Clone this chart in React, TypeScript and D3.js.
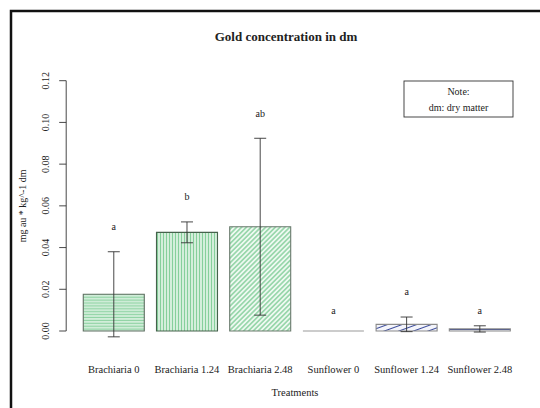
import React from "react";
import * as d3 from "d3";

const treatments = ["Brachiaria 0", "Brachiaria 1.24", "Brachiaria 2.48", "Sunflower 0", "Sunflower 1.24", "Sunflower 2.48"];
const means = [0.0176, 0.0473, 0.05, 0, 0.0032, 0.001];
const sds = [0.0204, 0.005, 0.0424, 0, 0.0035, 0.0015];
const letters = ["a", "b", "ab", "a", "a", "a"];
const letterY = [0.05, 0.0644, 0.104, 0.0097, 0.0188, 0.0097];
const yTicks = [0, 0.02, 0.04, 0.06, 0.08, 0.1, 0.12];
const patterns = ["hz", "vt", "dg", "none", "dgb", "hzb"];

const FONT = "Liberation Serif, Times New Roman, Times, serif";

export default function App() {
  const W = 540, H = 408;
  const x = d3.scaleLinear().domain([-0.08, 7.48]).range([66.2, 527.4]);
  const y = d3.scaleLinear().domain([0, 0.12]).range([331, 80.7]);
  const barL = (i: number) => 0.2 + 1.2 * i;
  const fmt = d3.format(".2f");

  const fills: Record<string, string> = {
    hz: "url(#pHz)", vt: "url(#pVt)", dg: "url(#pDg)", none: "none", dgb: "url(#pDgb)", hzb: "url(#pHzb)",
  };
  const strokes: Record<string, string> = {
    hz: "#5f6f62", vt: "#46624c", dg: "#6a7a6d", none: "#9a9a9a", dgb: "#8a8a8a", hzb: "#8a8a8a",
  };
  const txt = { fontFamily: FONT, fill: "#222" } as React.CSSProperties;

  return (
    <svg width={W} height={H} style={{ position: "absolute", left: 0, top: 0, background: "#fff" }}>
      <defs>
        <pattern id="pHz" width="6" height="2.9" patternUnits="userSpaceOnUse">
          <rect width="6" height="2.9" fill="#e6f6ea" />
          <line x1="0" x2="6" y1="1.4" y2="1.4" stroke="#8ed3a3" strokeWidth="1.5" />
        </pattern>
        <pattern id="pVt" width="3" height="6" patternUnits="userSpaceOnUse">
          <rect width="3" height="6" fill="#eef9f1" />
          <line y1="0" y2="6" x1="1.5" x2="1.5" stroke="#86cf9b" strokeWidth="1.5" />
        </pattern>
        <pattern id="pDg" width="3.4" height="3.4" patternUnits="userSpaceOnUse" patternTransform="rotate(45)">
          <rect width="3.4" height="3.4" fill="#eef9f1" />
          <line y1="0" y2="3.4" x1="1.7" x2="1.7" stroke="#8ed3a3" strokeWidth="1.5" />
        </pattern>
        <pattern id="pDgb" width="5" height="5" patternUnits="userSpaceOnUse" patternTransform="rotate(70)">
          <rect width="5" height="5" fill="#f4f5fb" />
          <line y1="0" y2="5" x1="2.5" x2="2.5" stroke="#3a4a9a" strokeWidth="1" />
        </pattern>
        <pattern id="pHzb" width="6" height="4" patternUnits="userSpaceOnUse">
          <rect width="6" height="4" fill="#eef0f8" />
          <line x1="0" x2="6" y1="1.5" y2="1.5" stroke="#2f3f8f" strokeWidth="1" />
        </pattern>
      </defs>

      <path d={`M${W + 2},11 H11 V${H + 2}`} fill="none" stroke="#111" strokeWidth={2.5} />

      <text x={286} y={41} textAnchor="middle" fontSize={13} fontWeight="bold" style={txt}>Gold concentration in dm</text>

      <line x1={x(-0.08)} x2={x(-0.08)} y1={y(0)} y2={y(0.12)} stroke="#333" strokeWidth={0.9} />
      {yTicks.map((t) => (
        <g key={t}>
          <line x1={x(-0.08) - 7} x2={x(-0.08)} y1={y(t)} y2={y(t)} stroke="#333" strokeWidth={0.9} />
          <text transform={`translate(${x(-0.08) - 17},${y(t)}) rotate(-90)`} textAnchor="middle" fontSize={10} style={txt}>{fmt(t)}</text>
        </g>
      ))}
      <text transform={`translate(26,${(y(0) + y(0.12)) / 2}) rotate(-90)`} textAnchor="middle" fontSize={10} style={txt}>mg au * kg^-1 dm</text>

      {treatments.map((t, i) => {
        const x0 = x(barL(i)), x1 = x(barL(i) + 1);
        const y0 = y(0), y1 = y(means[i]);
        const cx = (x0 + x1) / 2;
        const sd = sds[i];
        return (
          <g key={t}>
            {means[i] > 0 && (
              <rect x={x0} y={y1} width={x1 - x0} height={y0 - y1} fill={fills[patterns[i]]} />
            )}
            <path d={`M${x0},${y0} H${x1} V${y1} H${x0} Z`} fill="none" stroke={strokes[patterns[i]]} strokeWidth={1.1} />
            {sd > 0 && (
              <g stroke="#333" strokeWidth={0.9}>
                <line x1={cx} x2={cx} y1={y(means[i] + sd)} y2={y(means[i] - sd)} />
                <line x1={cx - 6} x2={cx + 6} y1={y(means[i] + sd)} y2={y(means[i] + sd)} />
                <line x1={cx - 6} x2={cx + 6} y1={y(means[i] - sd)} y2={y(means[i] - sd)} />
              </g>
            )}
            <text x={cx} y={y(letterY[i]) + 3} textAnchor="middle" fontSize={10} style={txt}>{letters[i]}</text>
            <text x={cx} y={373} textAnchor="middle" fontSize={10.5} style={txt}>{t}</text>
          </g>
        );
      })}

      <text x={295} y={396} textAnchor="middle" fontSize={10.5} style={txt}>Treatments</text>

      <rect x={404} y={81} width={109} height={36} fill="#fff" stroke="#333" strokeWidth={0.9} />
      <text x={458.5} y={95} textAnchor="middle" fontSize={10} style={txt}>Note:</text>
      <text x={458.5} y={111} textAnchor="middle" fontSize={10} style={txt}>dm: dry matter</text>
    </svg>
  );
}
